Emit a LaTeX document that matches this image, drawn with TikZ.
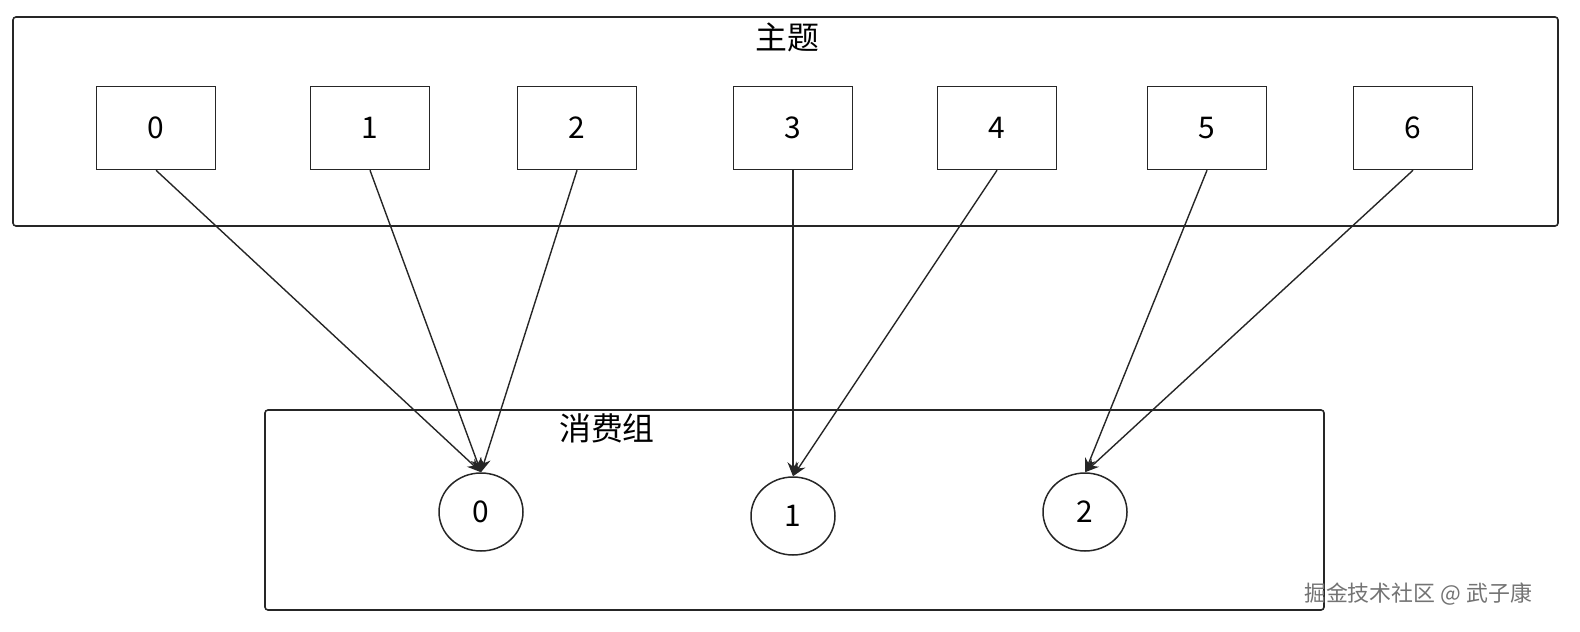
\documentclass[tikz,border=0pt]{standalone}
\usepackage{fontspec}
\setmainfont{Noto Sans CJK SC}
\usetikzlibrary{arrows.meta,shapes.geometric}
\begin{document}
\begin{tikzpicture}[x=1bp,y=-1bp,
  grp/.style={draw=black!85,line width=1.6bp,rounded corners=3bp},
  part/.style={draw=black!85,line width=1.5bp,minimum width=119bp,minimum height=83bp,font=\fontsize{30}{30}\selectfont},
  cons/.style={draw=black!85,line width=1.5bp,ellipse,minimum width=84bp,minimum height=78bp,inner sep=0pt,font=\fontsize{30}{30}\selectfont},
  arr/.style={draw=black!85,line width=1.4bp,-{Stealth[length=14bp,width=11bp]}},
  ttl/.style={font=\fontsize{32}{32}\selectfont}]
\useasboundingbox (0,0) rectangle (1580,632);
\draw[grp] (13,17) rectangle (1558,226);
\node[ttl] (t) at (787,37) {主题};
\draw[grp] (265,410) rectangle (1324,610);
\node[ttl] (g) at (607,428) {消费组};
\foreach \i/\x in {0/156,1/370,2/577,3/793,4/997,5/1207,6/1413}
  \node[part] (p\i) at (\x,128) {\i};
\node[cons] (c0) at (481,512) {0};
\node[cons] (c1) at (793,516) {1};
\node[cons] (c2) at (1085,512) {2};
\foreach \p/\c in {0/0,1/0,2/0,3/1,4/1,5/2,6/2}
  \draw[arr] (p\p.south) -- (c\c.north);
\node[text=black!55,font=\fontsize{22}{22}\selectfont] (w) at (1418,594) {掘金技术社区 @ 武子康};
\end{tikzpicture}
\end{document}
